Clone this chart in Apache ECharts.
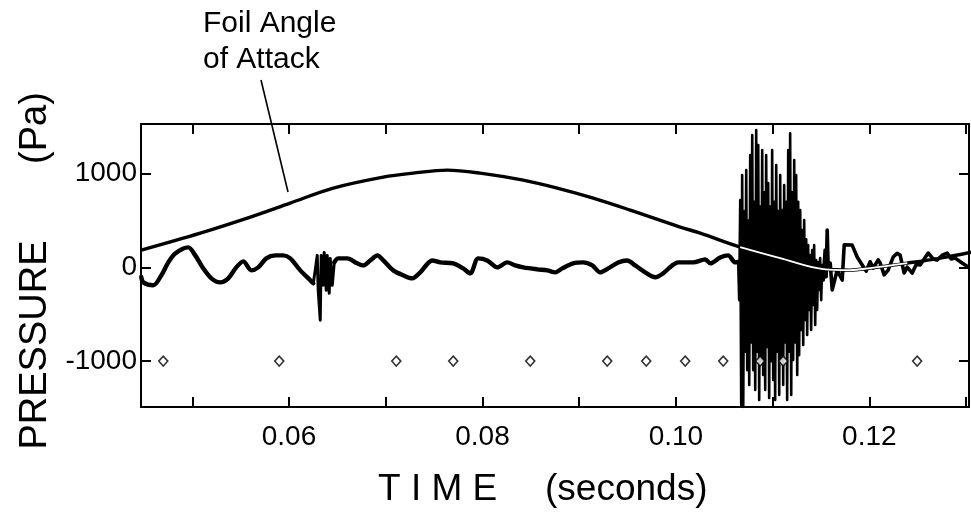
<!DOCTYPE html>
<html>
<head>
<meta charset="utf-8">
<script src="https://cdn.jsdelivr.net/npm/echarts@6/dist/echarts.min.js"></script>
<style>html,body{margin:0;padding:0;background:#fff;}#c{width:971px;height:512px;}</style>
</head>
<body>
<div id="c"></div>
<script>
// ---- axis settings ----
const xMin = 0.0447, xMax = 0.1303;
const yMin = -1490, yMax = 1530;
const xTickValues = [0.05, 0.06, 0.07, 0.08, 0.09, 0.10, 0.11, 0.12, 0.13];
const xLabelValues = [0.06, 0.08, 0.10, 0.12];
const yTickValues = [-1000, 0, 1000];

// ---- foil angle of attack curve ----
const foilT = [0.04473,0.05083,0.05600,0.06013,0.06458,0.06974,0.07284,0.07636,0.07977,0.08421,0.08773,0.09145,0.09528,0.10044,0.10251,0.10664,0.11078,0.11522,0.11801,0.12008,0.12392,0.12733,0.13053];
const foilV = [185,366,537,686,846,963,1006,1038,1006,931,846,739,611,430,366,217,99,-18,-29,-7,46,99,163];
// portion of the foil curve drawn white over the burst
const foilWhiteFrom = 0.10664, foilWhiteTo = 0.12392;

// ---- pressure trace, calm part before first spike ----
const calmAT = [0.04473,0.04494,0.04597,0.04680,0.04752,0.04824,0.04959,0.05031,0.05114,0.05197,0.05290,0.05372,0.05455,0.05527,0.05610,0.05682,0.05765,0.05858,0.05941,0.06013,0.06117,0.06220,0.06251];
const calmAV = [-103,-160,-191,-85,53,149,213,128,-11,-117,-160,-117,0,64,-32,0,96,128,128,96,-32,-138,-170];
// small spike burst near 0.063 s
const spikeT = [0.06251,0.06271,0.06292,0.06302,0.06323,0.06333,0.06354,0.06364,0.06385,0.06395,0.06416,0.06426,0.06447,0.06468];
const spikeV = [-170,-32,128,-245,-564,128,-191,160,-245,128,-277,96,-191,53];
// calm part up to the big burst
const calmBT = [0.06468,0.06509,0.06602,0.06706,0.06768,0.06840,0.06913,0.06975,0.07078,0.07181,0.07274,0.07357,0.07481,0.07564,0.07698,0.07801,0.07874,0.07956,0.08049,0.08153,0.08256,0.08339,0.08421,0.08566,0.08670,0.08752,0.08825,
0.08938,0.09042,0.09135,0.09217,0.09300,0.09403,0.09496,0.09579,0.09682,0.09786,0.09868,0.09961,0.10024,0.10179,0.10303,0.10355,0.10458,0.10540,0.10613,0.10644];
const calmBV = [53,96,96,43,21,74,128,74,-32,-85,-117,-53,74,53,43,-11,-64,96,74,0,53,21,0,-21,-32,-53,-11,
43,53,21,-53,-11,53,74,21,-53,-106,-64,21,53,53,85,43,106,128,53,57];
// big burst (cavitation) 0.1064 - 0.1152 s
const burstT = [0.10644,0.10654,0.10665,0.10675,0.10685,0.10696,0.10706,0.10716,0.10727,0.10737,0.10747,0.10758,0.10768,0.10778,0.10789,0.10799,0.10809,0.10820,0.10830,0.10840,
0.10851,0.10861,0.10871,0.10882,0.10892,0.10902,0.10913,0.10923,0.10933,0.10944,0.10954,0.10964,0.10975,0.10985,0.10995,0.11006,0.11016,0.11026,0.11037,0.11047,
0.11057,0.11068,0.11078,0.11088,0.11099,0.11109,0.11119,0.11130,0.11140,0.11150,0.11161,0.11171,0.11181,0.11192,0.11202,0.11212,0.11223,0.11233,0.11243,0.11254,
0.11264,0.11274,0.11285,0.11295,0.11305,0.11316,0.11326,0.11336,0.11347,0.11357,0.11367,0.11378,0.11388,0.11398,0.11409,0.11419,0.11429,0.11440,0.11450,0.11460,
0.11471,0.11481,0.11491,0.11502,0.11512,0.11522];
const burstV = [57,-349,718,-1469,985,-1490,600,-900,1038,-1096,500,-1256,1198,-800,1412,-1096,700,-1309,1465,-900,
1305,-1416,650,-1000,1252,-1149,800,-1309,1198,-850,900,-1394,650,-1000,1252,-1202,700,-1416,1092,-900,
600,-1362,985,-1000,611,-1256,878,-800,700,-1416,1252,-900,1430,-1362,800,-989,1145,-800,985,-1149,
700,-936,611,-669,398,-829,505,-562,300,-722,238,-455,131,-669,185,-402,238,-615,78,-455,
57,-242,99,-349,25,-135];
// noisy tail after the burst
const tailT = [0.11522,0.11543,0.11553,0.11564,0.11574,0.11595,0.11616,0.11667,0.11719,0.11740,0.11822,0.11874,0.11926,0.11967,0.12008,0.12039,0.12091,0.12112,0.12153,0.12194,0.12246,0.12287,0.12318,0.12360,0.12391,0.12443,0.12484,0.12525,0.12608,0.12660,0.12701,0.12753,0.12804,0.12846,0.12887,0.12959,0.13021];
const tailV = [-135,185,-100,398,0,46,-240,-29,-135,240,238,110,25,-40,60,-7,80,46,-80,-29,110,150,131,-60,3,-61,30,25,153,90,78,130,153,90,99,46,3];

// ---- diamond markers ----
const markT = [0.04700,0.05899,0.07109,0.07698,0.08494,0.09290,0.09693,0.10096,0.10489,0.10871,0.11109,0.12494];
const markV = [-1000,-1000,-1000,-1000,-1000,-1000,-1000,-1000,-1000,-1000,-1000,-1000];

// ---- build ----
const zip = (a, b) => a.map((v, i) => [v, b[i]]);
const foilData = zip(foilT, foilV);
const foilWhite = foilData.filter(p => p[0] >= foilWhiteFrom && p[0] <= foilWhiteTo);
const markData = zip(markT, markV);

const FONT = '"Liberation Sans", Arial, Helvetica, sans-serif';
const axisLine = {show: true, onZero: false, lineStyle: {color: '#000', width: 2}};
const tickStyle = {color: '#000', width: 2};
const pLine = (name, t, v, smooth, width) => ({
  name: name, type: 'line', data: zip(t, v), smooth: smooth, showSymbol: false, z: 3, clip: true,
  lineStyle: {color: '#000', width: width, join: 'round', cap: 'round'}
});

const chart = echarts.init(document.getElementById('c'), null, {renderer: 'canvas'});
chart.setOption({
  animation: false,
  backgroundColor: '#fff',
  grid: {left: 141, right: 2, top: 124, bottom: 105, containLabel: false},
  xAxis: [
    {type: 'value', position: 'bottom', min: xMin, max: xMax, axisLine: axisLine,
     axisTick: {show: true, inside: true, length: 10, customValues: xTickValues, lineStyle: tickStyle},
     axisLabel: {show: true, customValues: xLabelValues, margin: 16, color: '#000', fontSize: 28, fontFamily: FONT,
                 formatter: v => v.toFixed(2)},
     splitLine: {show: false}},
    {type: 'value', position: 'top', min: xMin, max: xMax, axisLine: axisLine,
     axisTick: {show: true, inside: true, length: 10, customValues: xTickValues, lineStyle: tickStyle},
     axisLabel: {show: false}, splitLine: {show: false}}
  ],
  yAxis: [
    {type: 'value', position: 'left', min: yMin, max: yMax, axisLine: axisLine,
     axisTick: {show: true, inside: true, length: 10, customValues: yTickValues, lineStyle: tickStyle},
     axisLabel: {show: true, customValues: yTickValues, margin: 4, color: '#000', fontSize: 28, fontFamily: FONT,
                 formatter: v => String(v)},
     splitLine: {show: false}},
    {type: 'value', position: 'right', min: yMin, max: yMax, axisLine: axisLine,
     axisTick: {show: true, inside: true, length: 10, customValues: yTickValues, lineStyle: tickStyle},
     axisLabel: {show: false}, splitLine: {show: false}}
  ],
  series: [
    {name: 'Foil Angle of Attack', type: 'line', data: foilData, smooth: 0.35, showSymbol: false, z: 2,
     lineStyle: {color: '#000', width: 3.4}, clip: true},
    pLine('Pressure', calmAT, calmAV, 0.3, 4.4),
    pLine('Pressure', spikeT, spikeV, false, 3),
    pLine('Pressure', calmBT, calmBV, 0.3, 4.4),
    pLine('Pressure', burstT, burstV, false, 2.6),
    pLine('Pressure', tailT, tailV, false, 3.6),
    {name: 'Foil (over burst)', type: 'line', data: foilWhite, smooth: 0.35, showSymbol: false, z: 4,
     lineStyle: {color: '#fff', width: 1.8}, clip: true},
    {name: 'Markers', type: 'scatter', data: markData, symbol: 'diamond', symbolSize: [9, 10], z: 5,
     itemStyle: {color: '#fff', borderColor: '#000', borderWidth: 1.6}}
  ],
  graphic: [
    {type: 'text', left: 203, top: 9, style: {text: 'Foil Angle', font: '30px ' + FONT, fill: '#000'}},
    {type: 'text', left: 203, top: 45, style: {text: 'of Attack', font: '30px ' + FONT, fill: '#000'}},
    {type: 'line', shape: {x1: 261, y1: 80, x2: 288, y2: 192}, style: {stroke: '#000', lineWidth: 1.6}},
    {type: 'text', x: 36, y: 345, rotation: Math.PI / 2,
     style: {text: 'PRESSURE', font: '38px ' + FONT, fill: '#000', align: 'center', verticalAlign: 'middle'}},
    {type: 'text', x: 36, y: 128, rotation: Math.PI / 2,
     style: {text: '(Pa)', font: '38px ' + FONT, fill: '#000', align: 'center', verticalAlign: 'middle'}},
    {type: 'text', x: 378, y: 490,
     style: {text: 'T I M E', font: '37px ' + FONT, fill: '#000', align: 'left', verticalAlign: 'middle'}},
    {type: 'text', x: 545, y: 490,
     style: {text: '(seconds)', font: '37px ' + FONT, fill: '#000', align: 'left', verticalAlign: 'middle'}}
  ]
});
</script>
</body>
</html>
